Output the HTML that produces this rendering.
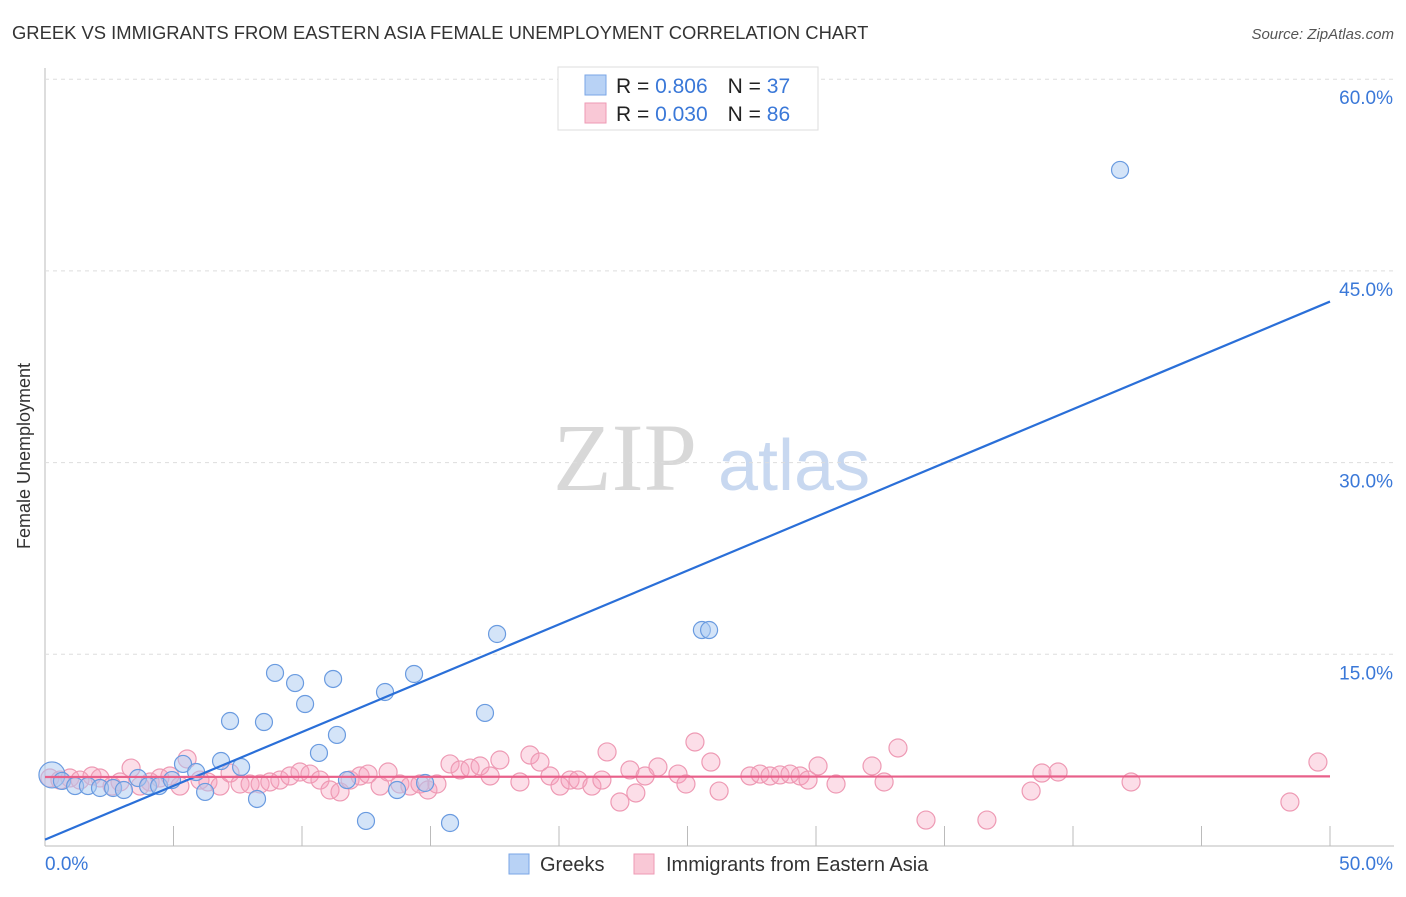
<!DOCTYPE html>
<html><head><meta charset="utf-8"><style>
body{margin:0;background:#fff;font-family:"Liberation Sans",sans-serif}
svg text{font-family:"Liberation Sans",sans-serif}
</style></head><body>
<svg id="chart" width="1406" height="892" viewBox="0 0 1406 892">
<text x="12" y="39" font-size="18.4" fill="#333">GREEK VS IMMIGRANTS FROM EASTERN ASIA FEMALE UNEMPLOYMENT CORRELATION CHART</text>
<text x="1394" y="39" font-size="15" fill="#555" font-style="italic" text-anchor="end">Source: ZipAtlas.com</text>
<text x="30" y="456" font-size="18" fill="#333" text-anchor="middle" transform="rotate(-90 30 456)">Female Unemployment</text>
<text x="553" y="490" font-size="96" fill="#d8d8d8" style="font-family:'Liberation Serif',serif">ZIP</text>
<text x="718" y="490" font-size="72" fill="#c8d8f0">atlas</text>
<g id="grid"></g><g id="pink"></g><g id="blue"></g><g id="trends"></g>
<g>
<rect x="558" y="67" width="260" height="63" fill="#fff" stroke="#ddd"/>
<rect x="585" y="75" width="21" height="20" fill="#b8d2f5" stroke="#7aa6e6"/>
<rect x="585" y="103" width="21" height="20" fill="#f9c8d6" stroke="#ee9ab4"/>
<text x="616" y="93" font-size="21" fill="#222">R = <tspan fill="#3a78d8">0.806</tspan><tspan dx="20">N = </tspan><tspan fill="#3a78d8">37</tspan></text>
<text x="616" y="121" font-size="21" fill="#222">R = <tspan fill="#3a78d8">0.030</tspan><tspan dx="20">N = </tspan><tspan fill="#3a78d8">86</tspan></text>
</g>
<g>
<rect x="509" y="854" width="20" height="20" fill="#b8d2f5" stroke="#7aa6e6"/>
<text x="540" y="871" font-size="20" fill="#333">Greeks</text>
<rect x="634" y="854" width="20" height="20" fill="#f9c8d6" stroke="#ee9ab4"/>
<text x="666" y="871" font-size="20" fill="#333">Immigrants from Eastern Asia</text>
</g>
</svg>
<script>
const xTicks=[0,5,10,15,20,25,30,35,40,45,50];
const yTicks=[15,30,45,60];
const yTickLabels=["15.0%","30.0%","45.0%","60.0%"];
const xTickLabels=["0.0%","50.0%"];
const blueX=[0.27,0.66,1.17,1.67,2.14,2.65,3.07,3.62,4.01,4.44,4.94,5.37,5.88,6.23,6.85,7.2,7.63,8.25,8.52,8.95,9.73,10.12,10.66,11.21,11.36,11.75,12.49,13.23,13.7,14.36,14.79,15.76,17.12,17.59,25.56,25.84,41.83];
const blueY=[5.56,5.09,4.69,4.69,4.54,4.54,4.38,5.32,4.69,4.69,5.16,6.42,5.79,4.23,6.65,9.78,6.18,3.68,9.7,13.54,12.75,11.11,7.28,13.07,8.69,5.16,1.96,12.05,4.38,13.46,4.93,1.8,10.41,16.59,16.9,16.9,52.9];
const pinkX=[0.19,0.58,0.97,1.36,1.83,2.14,2.61,2.92,3.35,3.7,4.09,4.47,4.86,5.25,5.53,6.03,6.34,6.81,7.2,7.59,7.98,8.37,8.75,9.14,9.53,9.92,10.31,10.7,11.09,11.48,11.87,12.26,12.57,13.04,13.35,13.81,14.2,14.59,14.9,15.25,15.76,16.15,16.54,16.93,17.32,17.7,18.48,18.87,19.26,19.65,20.04,20.43,20.74,21.28,21.67,21.87,22.37,22.76,22.99,23.35,23.85,24.63,24.94,25.29,25.91,26.23,27.43,27.82,28.21,28.6,28.99,29.38,29.69,30.08,30.78,32.18,32.65,33.19,34.28,36.65,38.37,38.79,39.42,42.26,48.44,49.53];
const pinkY=[5.32,5.16,5.32,5.16,5.48,5.32,4.69,5.01,6.1,4.69,5.01,5.32,5.48,4.69,6.81,5.16,5.01,4.69,5.71,4.85,4.85,4.85,5.01,5.16,5.48,5.79,5.63,5.16,4.38,4.23,5.16,5.48,5.63,4.69,5.79,4.85,4.69,4.85,4.38,4.85,6.42,5.95,6.1,6.26,5.48,6.73,5.01,7.12,6.57,5.48,4.69,5.16,5.16,4.69,5.16,7.36,3.44,5.95,4.15,5.48,6.18,5.63,4.85,8.14,6.57,4.3,5.48,5.63,5.48,5.56,5.63,5.48,5.16,6.26,4.85,6.26,5.01,7.67,2.03,2.03,4.3,5.71,5.79,5.01,3.44,6.57];
const blueTrend=[0.5,42.6];
const pinkTrend=[5.4,5.45];
const X=v=>45+v*25.7, Y=v=>846-v*12.78;
const NS="http://www.w3.org/2000/svg";
function mk(tag,parent,attrs){const e=document.createElementNS(NS,tag);for(const k in attrs)e.setAttribute(k,attrs[k]);document.getElementById(parent).appendChild(e);return e;}
let e;
e=mk('line','grid',{x1:45,y1:68,x2:45,y2:846,stroke:'#bbb'});


e=mk('line','grid',{x1:45,y1:846,x2:1394,y2:846,stroke:'#bbb'});


xTicks.forEach(t=>{e=mk('line','grid',{x1:X(t),y1:826,x2:X(t),y2:846,stroke:'#bbb'});

});
yTicks.forEach((t,i)=>{e=mk('line','grid',{x1:45,y1:Y(t),x2:1394,y2:Y(t),stroke:'#ddd','stroke-dasharray':'4,4'});


e=mk('text','grid',{x:1393,y:Y(t)+25,'font-size':19,fill:'#3a78d8','text-anchor':'end'});e.textContent=yTickLabels[i];

});
e=mk('text','grid',{x:45,y:870,'font-size':19,fill:'#3a78d8'});e.textContent=xTickLabels[0];


e=mk('text','grid',{x:1393,y:870,'font-size':19,fill:'#3a78d8','text-anchor':'end'});e.textContent=xTickLabels[1];


pinkX.forEach((v,i)=>{e=mk('circle','pink',{cx:X(v),cy:Y(pinkY[i]),r:9,fill:'rgba(246,160,190,0.35)',stroke:'#ee9ab4','stroke-width':1.2});

});
blueX.forEach((v,i)=>{e=mk('circle','blue',{cx:X(v),cy:Y(blueY[i]),r:i==0?13:8.5,fill:'rgba(170,202,242,0.5)',stroke:'#6a9be0','stroke-width':1.2});

});
e=mk('line','trends',{x1:X(0),y1:Y(blueTrend[0]),x2:X(50),y2:Y(blueTrend[1]),stroke:'#2a6fd8','stroke-width':2.2});


e=mk('line','trends',{x1:X(0),y1:Y(pinkTrend[0]),x2:X(50),y2:Y(pinkTrend[1]),stroke:'#e8608a','stroke-width':2.2});


</script>
</body></html>
